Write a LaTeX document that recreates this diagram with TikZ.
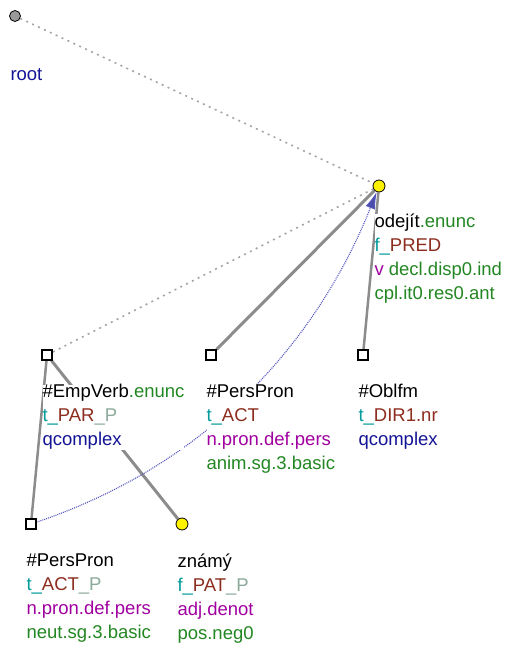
\documentclass[tikz,border=0pt]{standalone}
\usepackage{fontspec}
\setmainfont{Liberation Sans}
\usetikzlibrary{backgrounds,arrows.meta}
\definecolor{tgreen}{RGB}{34,135,34}
\definecolor{tteal}{RGB}{0,155,155}
\definecolor{tbrown}{RGB}{140,45,30}
\definecolor{tgrey}{RGB}{140,170,155}
\definecolor{tpurple}{RGB}{160,0,160}
\definecolor{tblue}{RGB}{20,20,150}
\definecolor{tedge}{RGB}{140,140,140}
\definecolor{thid}{RGB}{165,165,165}
\definecolor{tcoref}{RGB}{85,85,190}
\begin{document}
\begin{tikzpicture}[x=1pt,y=-1pt,line width=1pt,
 circ/.style={circle,draw=black,line width=.8pt,inner sep=0pt,minimum size=12pt},
 sq/.style={rectangle,draw=black,fill=white,line width=1.2pt,inner sep=0pt,minimum size=10pt},
 lbl/.style={anchor=north west,align=left,fill=white,inner sep=0pt,font=\fontsize{18.5}{24}\selectfont},
 edge/.style={draw=tedge,line width=3pt},
 hid/.style={draw=thid,line width=1.6pt,dash pattern=on 2pt off 4.5pt},
 coref/.style={draw=tcoref,line width=1.1pt,dash pattern=on 1pt off 1pt,-{Latex[length=17pt,width=10pt,fill=tcoref!90!black]}}]
 \useasboundingbox (0,0) rectangle (507,647);
 %% tree nodes
 \node[circ,fill=gray!80,minimum size=11pt] (root) at (15,16) {};
 \node[circ,fill=yellow] (odejit) at (379,186) {};
 \node[circ,fill=yellow] (znamy) at (182,524) {};
 \foreach \n/\x/\y in {empverb/47/355,ppron/211/355,oblfm/363/355,ppronp/31/524}{\node[sq] (\n) at (\x,\y) {};}
 %% labels
 \node[lbl] (root-l) at (10,68) {\textcolor{tblue}{root}};
 \node[lbl] (odejit-l) at (374,213) {odejít\textcolor{tgreen}{.enunc}\\\textcolor{tteal}{f\_}\textcolor{tbrown}{PRED}\\\textcolor{tpurple}{v} \textcolor{tgreen}{decl.disp0.ind}\\\textcolor{tgreen}{cpl.it0.res0.ant}};
 \node[lbl] (empverb-l) at (42,384) {\#EmpVerb\textcolor{tgreen}{.enunc}\\\textcolor{tteal}{t\_}\textcolor{tbrown}{PAR}\textcolor{tgrey}{\_P}\\\textcolor{tblue}{qcomplex}};
 \node[lbl] (ppron-l) at (206,384) {\#PersPron\\\textcolor{tteal}{t\_}\textcolor{tbrown}{ACT}\\\textcolor{tpurple}{n.pron.def.pers}\\\textcolor{tgreen}{anim.sg.3.basic}};
 \node[lbl] (oblfm-l) at (358,384) {\#Oblfm\\\textcolor{tteal}{t\_}\textcolor{tbrown}{DIR1.nr}\\\textcolor{tblue}{qcomplex}};
 \node[lbl] (ppronp-l) at (26,553) {\#PersPron\\\textcolor{tteal}{t\_}\textcolor{tbrown}{ACT}\textcolor{tgrey}{\_P}\\\textcolor{tpurple}{n.pron.def.pers}\\\textcolor{tgreen}{neut.sg.3.basic}};
 \node[lbl] (znamy-l) at (177,553) {známý\\\textcolor{tteal}{f\_}\textcolor{tbrown}{PAT}\textcolor{tgrey}{\_P}\\\textcolor{tpurple}{adj.denot}\\\textcolor{tgreen}{pos.neg0}};
 %% edges behind everything
 \begin{pgfonlayer}{background}
  \draw[hid] (root) -- (odejit);
  \draw[hid] (odejit) -- (empverb);
  \draw[edge] (odejit) -- (ppron);
  \draw[edge,line width=2.5pt] (odejit) -- (oblfm);
  \draw[edge,line width=2.5pt] (empverb) -- (ppronp);
  \draw[edge] (empverb) -- (znamy);
  \draw[coref] (ppronp) .. controls (250,450) and (338,290) .. (odejit);
 \end{pgfonlayer}
\end{tikzpicture}
\end{document}
